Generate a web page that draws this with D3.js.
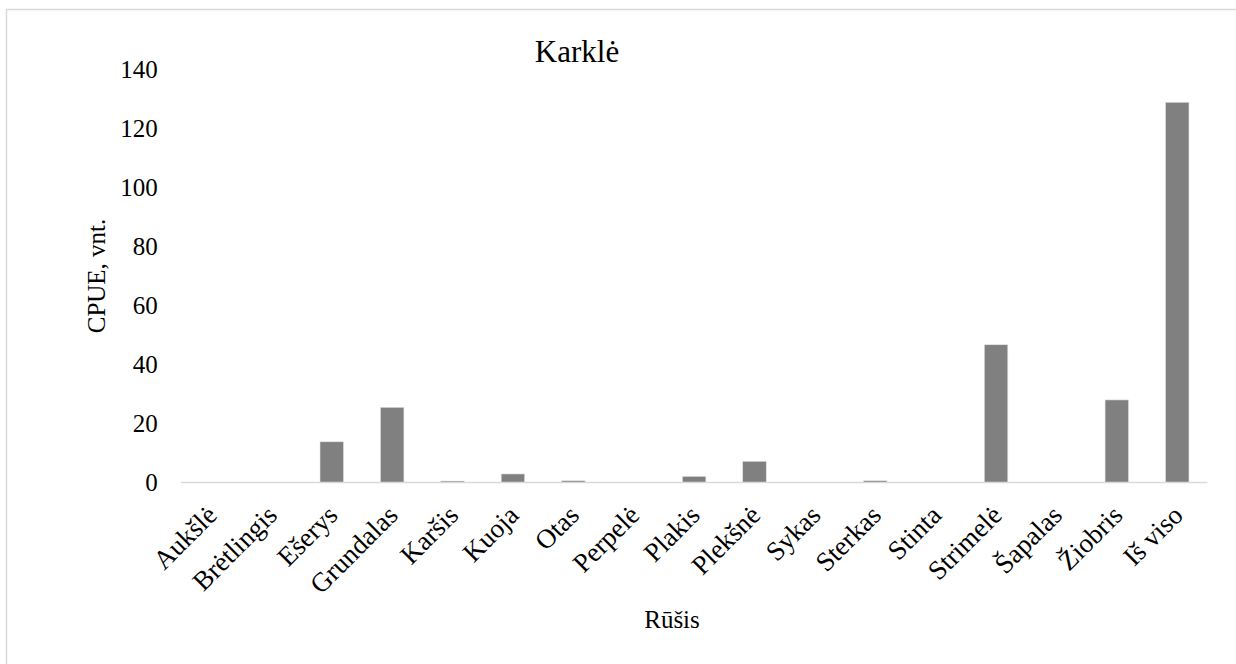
<!DOCTYPE html>
<html><head><meta charset="utf-8">
<script src="https://cdn.jsdelivr.net/npm/d3@7"></script>
<style>body{margin:0;background:#fff}svg{display:block}</style>
</head><body><svg id="c" width="1236" height="664"></svg>
<script>
const categories = ["Aukšlė","Brėtlingis","Ešerys","Grundalas","Karšis","Kuoja","Otas","Perpelė","Plakis","Plekšnė","Sykas","Sterkas","Stinta","Strimelė","Šapalas","Žiobris","Iš viso"];
const values = [0,0,13.8,25.5,0.5,2.9,0.6,0,2.1,7.2,0,0.6,0,46.7,0,28,128.9];
const yTicks = [0,20,40,60,80,100,120,140];
const title = "Karklė", yTitle = "CPUE, vnt.", xTitle = "Rūšis";

const FONT = '"Liberation Serif","Times New Roman","DejaVu Serif",serif';
const svg = d3.select("#c");
const m = {left:180.8, right:1207.4, top:69.5, bottom:482.5};
svg.append("rect").attr("x",6.5).attr("y",9.5).attr("width",1260).attr("height",680)
  .attr("fill","#fff").attr("stroke","#d9d9d9").attr("stroke-width",1.5);

const x = d3.scaleBand().domain(categories).range([m.left,m.right]).paddingInner(0.61).paddingOuter(0.305);
const y = d3.scaleLinear().domain([0,140]).range([m.bottom,m.top]);

svg.selectAll(".bar").data(categories).join("rect").attr("class","bar")
  .attr("x",d=>x(d)).attr("width",x.bandwidth())
  .attr("y",(d,i)=>y(values[i])).attr("height",(d,i)=>y(0)-y(values[i]))
  .attr("fill","#808080").attr("stroke","#e6e6e6").attr("stroke-width",0.6);

const ya = d3.axisLeft(y).tickValues(yTicks).tickSize(0).tickPadding(23);
const gy = svg.append("g").attr("transform",`translate(${m.left},0)`).call(ya).attr("font-family",FONT);
gy.select(".domain").remove();
gy.selectAll("text").style("font-family",FONT).style("font-size","25px").attr("fill","#000").attr("dy","0.33em");

svg.append("line").attr("x1",m.left).attr("x2",m.right).attr("y1",y(0)).attr("y2",y(0))
  .attr("stroke","#d9d9d9").attr("stroke-width",1.5);

const xa = d3.axisBottom(x).tickSize(0).tickPadding(0);
const gx = svg.append("g").attr("transform",`translate(0,${m.bottom})`).call(xa).attr("font-family",FONT);
gx.select(".domain").remove();
gx.selectAll("text").style("font-family",FONT).style("font-size","27px").attr("fill","#000").attr("text-anchor","end")
  .attr("transform","translate(-6,21) rotate(-45)").attr("dy","0.7em");

svg.append("text").attr("x",577).attr("y",62).attr("text-anchor","middle").style("font-family",FONT).style("font-size","31px").text(title);
svg.append("text").attr("transform","translate(105,276) rotate(-90)").attr("text-anchor","middle").style("font-family",FONT).style("font-size","25px").text(yTitle);
svg.append("text").attr("x",672).attr("y",628).attr("text-anchor","middle").style("font-family",FONT).style("font-size","25px").text(xTitle);
</script></body></html>
